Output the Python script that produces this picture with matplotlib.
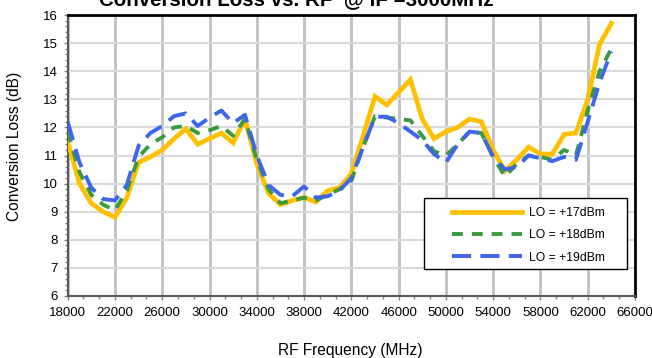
import matplotlib
matplotlib.use("Agg")
import matplotlib.pyplot as plt
from matplotlib.patches import Rectangle
from matplotlib.ticker import MultipleLocator, AutoMinorLocator

plt.rcParams['font.family'] = ['Liberation Sans', 'DejaVu Sans']

# RF sweep, one point per GHz
rf_mhz = [18000, 19000, 20000, 21000, 22000, 23000, 24000, 25000, 26000, 27000,
          28000, 29000, 30000, 31000, 32000, 33000, 34000, 35000, 36000, 37000,
          38000, 39000, 40000, 41000, 42000, 43000, 44000, 45000, 46000, 47000,
          48000, 49000, 50000, 51000, 52000, 53000, 54000, 55000, 56000, 57000,
          58000, 59000, 60000, 61000, 62000, 63000, 64000]

loss_lo17 = [11.5, 10.0, 9.3, 9.0, 8.8, 9.5, 10.75, 10.95, 11.2, 11.6,
             11.95, 11.4, 11.6, 11.8, 11.45, 12.3, 10.7, 9.65, 9.25, 9.4,
             9.5, 9.35, 9.75, 9.85, 10.35, 11.7, 13.1, 12.8, 13.25, 13.7,
             12.3, 11.6, 11.85, 12.0, 12.3, 12.2, 11.2, 10.45, 10.85, 11.3,
             11.05, 11.05, 11.75, 11.8, 13.0, 14.95, 15.7]

loss_lo18 = [11.85, 10.4, 9.6, 9.25, 9.05, 9.75, 10.95, 11.4, 11.65, 12.0,
             12.05, 11.8, 11.9, 12.05, 11.7, 12.3, 10.85, 9.8, 9.3, 9.4,
             9.5, 9.4, 9.6, 9.8, 10.1, 11.3, 12.4, 12.35, 12.3, 12.25,
             11.7, 11.15, 11.0, 11.4, 11.85, 11.8, 10.95, 10.25, 10.7, 11.0,
             10.95, 10.85, 11.2, 11.0, 12.6, 14.0, 14.8]

loss_lo19 = [12.2, 10.75, 9.85, 9.45, 9.4, 9.95, 11.35, 11.8, 12.05, 12.4,
             12.5, 12.05, 12.35, 12.6, 12.15, 12.45, 11.0, 9.95, 9.6, 9.55,
             9.9, 9.5, 9.55, 9.75, 10.2, 11.3, 12.38, 12.38, 12.15, 11.85,
             11.55, 11.05, 10.75, 11.4, 11.85, 11.8, 10.95, 10.5, 10.6, 11.0,
             10.9, 10.8, 10.95, 10.85, 12.2, 13.6, 14.7]

series_labels = ['LO = +17dBm', 'LO = +18dBm', 'LO = +19dBm']
x_ticks = [18000, 22000, 26000, 30000, 34000, 38000, 42000, 46000,
           50000, 54000, 58000, 62000, 66000]

W, H = 652, 358
fig = plt.figure(figsize=(W / 100, H / 100), dpi=100)
ax = fig.add_axes([67.7 / W, 1 - 296 / H, (635 - 67.7) / W, (296 - 15) / H])

ax.plot(rf_mhz, loss_lo17, color='#FFC000', lw=3.4, solid_joinstyle='miter',
        label=series_labels[0], zorder=3)
ax.plot(rf_mhz, loss_lo18, color='#3C9A3E', lw=2.8, linestyle=(0, (2.8, 2.3)),
        dash_capstyle='butt', label=series_labels[1], zorder=3)
ax.plot(rf_mhz, loss_lo19, color='#3D66EA', lw=2.8, linestyle=(0, (4.9, 2.4)),
        dash_capstyle='butt', label=series_labels[2], zorder=3)

ax.set_xlim(18000, 66000)
ax.set_ylim(6, 16)
ax.set_xticks(x_ticks)
ax.xaxis.set_minor_locator(AutoMinorLocator(3))
ax.yaxis.set_major_locator(MultipleLocator(1))
ax.yaxis.set_minor_locator(AutoMinorLocator(5))

ax.grid(axis='x', which='major', color='#c0c0c0', lw=2.0, zorder=0)
ax.grid(axis='y', which='major', color='#d9d9d9', lw=1.5, zorder=0)
ax.set_axisbelow(True)

for side in ('left', 'bottom'):
    ax.spines[side].set_color('#595959')
    ax.spines[side].set_linewidth(1.5)
for side in ('top', 'right'):
    ax.spines[side].set_color('black')
    ax.spines[side].set_linewidth(2.0)

ax.tick_params(which='both', direction='out', color='#808080', width=1.0,
               labelsize=9.5, labelcolor='black')
ax.tick_params(which='major', length=3)
ax.tick_params(which='minor', length=2.5)
ax.tick_params(axis='x', pad=5)
ax.tick_params(axis='y', pad=4)

fig.text(296 / W, 1 - 5 / H, 'Conversion Loss vs. RF  @ IF =3000MHz',
         ha='center', va='baseline', fontsize=14.8, fontweight='bold')
fig.text(15 / W, 1 - 146 / H, 'Conversion Loss (dB)', rotation=90,
         ha='center', va='center', fontsize=11.2)
fig.text(350 / W, 1 - 350 / H, 'RF Frequency (MHz)',
         ha='center', va='center', fontsize=11.2)

# legend box drawn separately so the handles can sit inset from the frame
frame = Rectangle((424 / W, 1 - 269 / H), 203 / W, 71 / H,
                  transform=fig.transFigure, facecolor='white',
                  edgecolor='black', lw=1.0, zorder=4, clip_on=False)
ax.add_patch(frame)
leg = ax.legend(loc='upper left', bbox_to_anchor=(446 / W, 1 - 201 / H),
                bbox_transform=fig.transFigure, frameon=False, fontsize=8.7,
                borderpad=0, handlelength=5.75, handletextpad=0.6,
                labelspacing=0.85)
leg.set_zorder(5)

fig.savefig('out.png', dpi=100)
